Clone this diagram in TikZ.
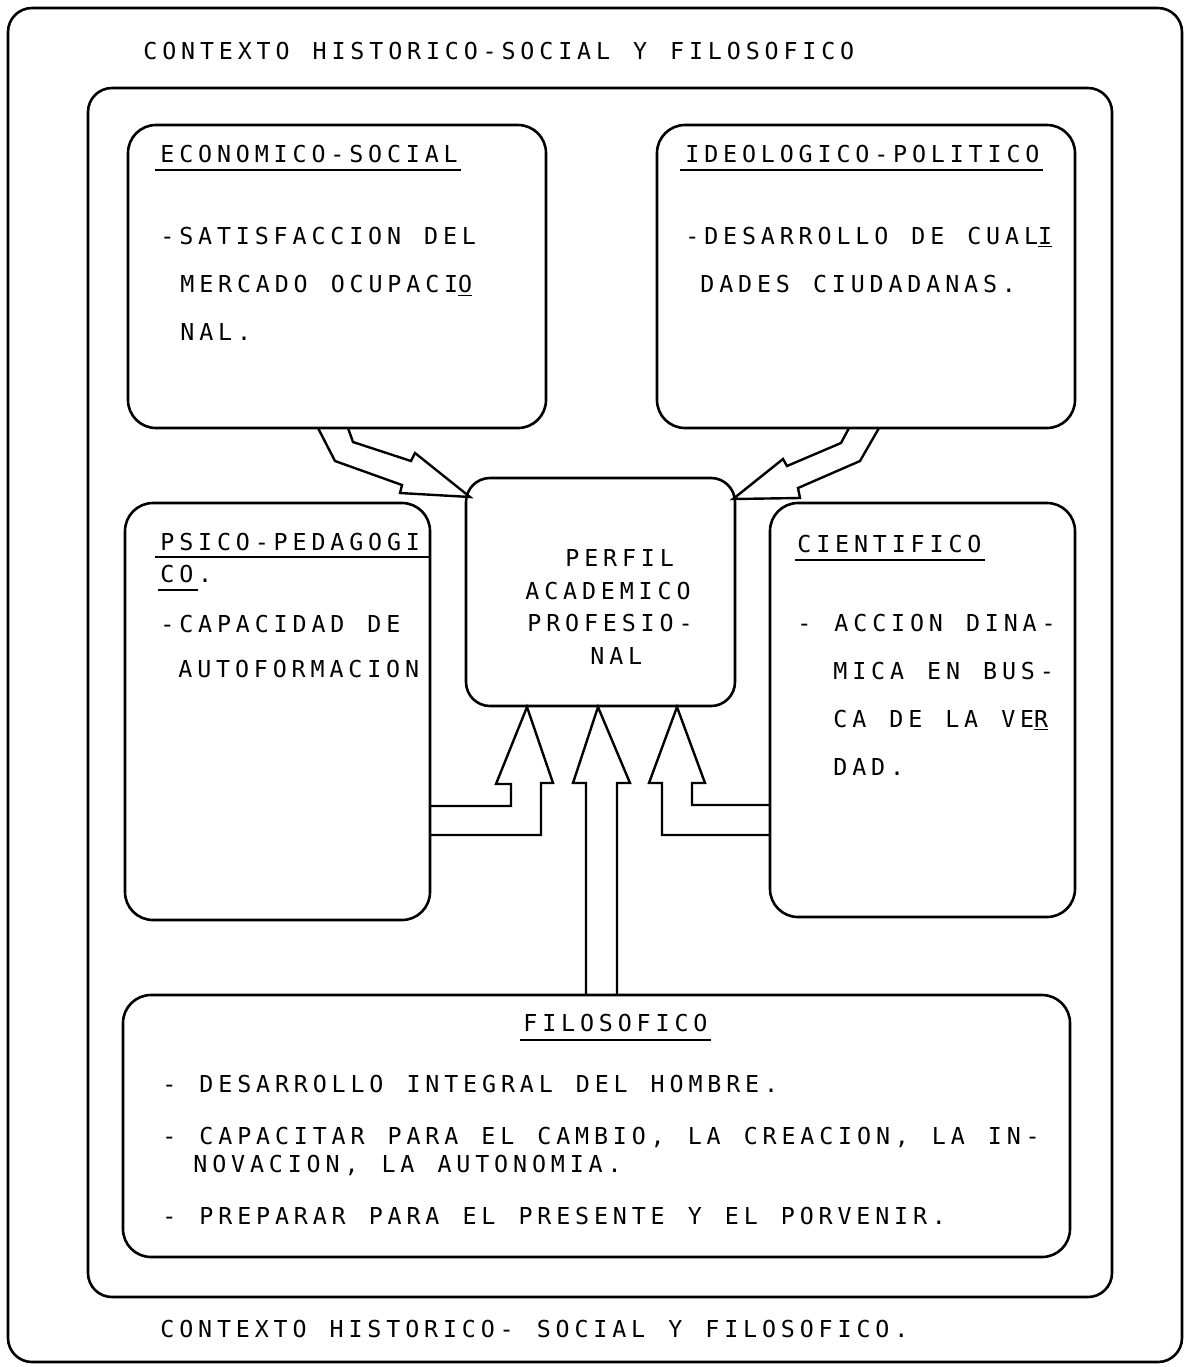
\documentclass[tikz,border=0pt]{standalone}
\usepackage{fontspec}
\newfontfamily\tw{DejaVu Sans Mono}[LetterSpace=20.8,WordSpace=1.22]
\usetikzlibrary{fit,calc}
\begin{document}
\begin{tikzpicture}[x=0.5pt,y=-0.5pt,
  box/.style={draw, line width=1.3pt, rounded corners=14pt, inner sep=0pt},
  txt/.style={font=\tw\fontsize{11.66}{14}\selectfont, anchor=base west, inner sep=0pt},
  ul/.style={line width=1.1pt},
  blk/.style={line width=1.2pt, line join=miter}]
\useasboundingbox[fill=white] (0,0) rectangle (1186,1367);
% boxes
\node[box, rounded corners=12pt, fit={(8,8) (1182,1362)}] (outer) {};
\node[box, rounded corners=12pt, fit={(88,88) (1112,1297)}] (inner) {};
\node[box, fit={(128,125) (546,428)}] (econ) {};
\node[box, fit={(657,125) (1075,428)}] (ideo) {};
\node[box, fit={(125,503) (430,920)}] (psico) {};
\node[box, fit={(770,503) (1075,917)}] (cien) {};
\node[box, rounded corners=12pt, fit={(466,478) (735,706)}] (perfil) {};
\node[box, fit={(123,995) (1070,1257)}] (filo) {};
% block arrows
\draw[blk] (318,428) -- (335,461) -- (402,485) -- (400,493) -- (470,497) -- (415,453) -- (411,461) -- (353,442) -- (348,428);
\draw[blk] (849,428) -- (841,443) -- (787,466) -- (783,459) -- (733,499) -- (800,498) -- (798,488) -- (860,461) -- (879,428);
\draw[blk] (430,806) -- (511,806) -- (511,784) -- (496,784) -- (527,707) -- (553,783) -- (541,783) -- (541,835) -- (430,835);
\draw[blk] (586,995) -- (586,783) -- (573,783) -- (598,707) -- (630,783) -- (617,783) -- (617,995);
\draw[blk] (770,805) -- (692,805) -- (692,783) -- (705,783) -- (677,707) -- (649,783) -- (662,783) -- (662,835) -- (770,835);
% texts
\node[txt] (t1) at (143,59) {CONTEXTO HISTORICO-SOCIAL Y FILOSOFICO};
\node[txt] (t2) at (160,1337) {CONTEXTO HISTORICO- SOCIAL Y FILOSOFICO.};
\node[txt] (econT) at (160,162) {ECONOMICO-SOCIAL};
\node[txt] (econ1) at (160,244) {-SATISFACCION DEL};
\node[txt] (econ2) at (180,292) {MERCADO OCUPACI\underline{O}};
\node[txt] (econ3) at (180,340) {NAL.};
\node[txt] (ideoT) at (685,162) {IDEOLOGICO-POLITICO};
\node[txt] (ideo1) at (685,244) {-DESARROLLO DE CUAL\underline{I}};
\node[txt] (ideo2) at (700,292) {DADES CIUDADANAS.};
\node[txt] (psicoT) at (160,550) {PSICO-PEDAGOGI};
\node[txt] (psicoT2) at (160,582) {CO.};
\node[txt] (psico1) at (160,632) {-CAPACIDAD DE};
\node[txt] (psico2) at (178,677) {AUTOFORMACION};
\node[txt] (cienT) at (797,552) {CIENTIFICO};
\node[txt] (cien1) at (797,631) {- ACCION DINA-};
\node[txt] (cien2) at (833,679) {MICA EN BUS-};
\node[txt] (cien3) at (833,727) {CA DE LA VE\underline{R}};
\node[txt] (cien4) at (833,775) {DAD.};
\node[txt] (p1) at (565,566) {PERFIL};
\node[txt] (p2) at (525,599) {ACADEMICO};
\node[txt] (p3) at (527,631) {PROFESIO-};
\node[txt] (p4) at (590,664) {NAL};
\node[txt] (filT) at (523,1031) {FILOSOFICO};
\node[txt] (fil1) at (162,1092) {- DESARROLLO INTEGRAL DEL HOMBRE.};
\node[txt] (fil2) at (162,1144) {- CAPACITAR PARA EL CAMBIO, LA CREACION, LA IN-};
\node[txt] (fil3) at (193,1172) {NOVACION, LA AUTONOMIA.};
\node[txt] (fil4) at (162,1224) {- PREPARAR PARA EL PRESENTE Y EL PORVENIR.};
% underlines
\draw[ul] ($(econT.base west)+(-5,8)$) -- ($(econT.base east)+(3,8)$);
\draw[ul] ($(ideoT.base west)+(-5,8)$) -- ($(ideoT.base east)+(3,8)$);
\draw[ul] ($(psicoT.base west)+(-5,7)$) -- ($(psico.east|-psicoT.base)+(0,7)$);
\draw[ul] ($(psicoT2.base west)+(-2,8)$) -- ++(40,0);
\draw[ul] ($(cienT.base west)+(-2,8)$) -- ($(cienT.base east)+(3,8)$);
\draw[ul] ($(filT.base west)+(-3,9)$) -- ($(filT.base east)+(3,9)$);
\end{tikzpicture}
\end{document}
